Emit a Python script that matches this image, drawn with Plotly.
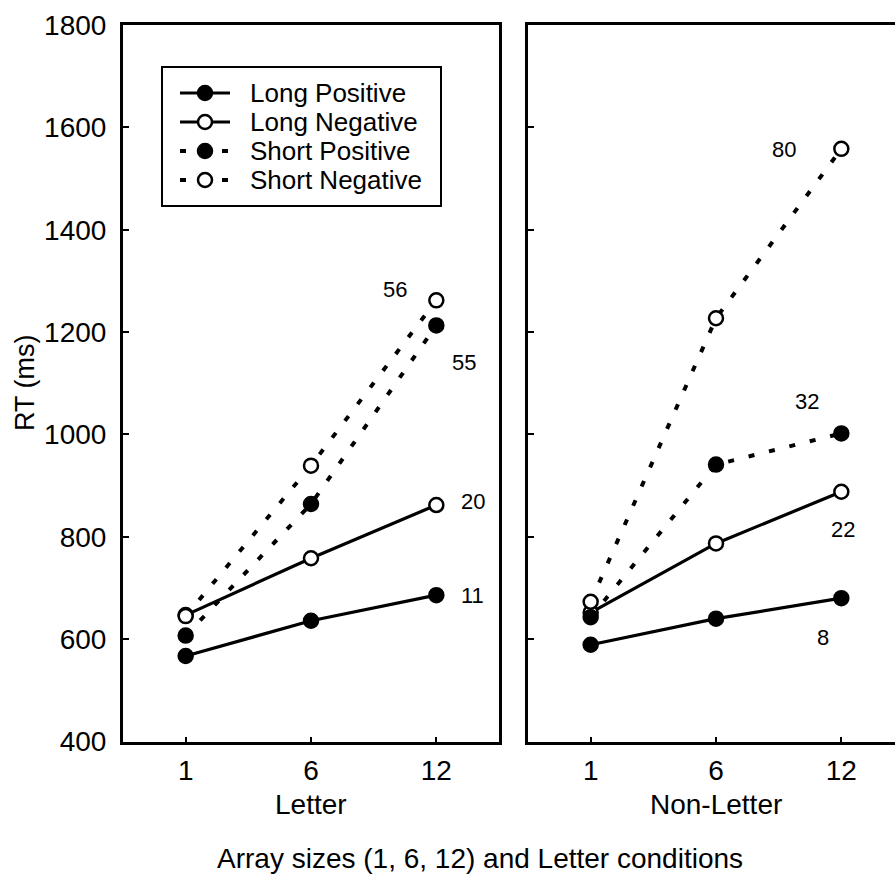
import plotly.graph_objects as go

# ---- data ----
array_sizes = ["1", "6", "12"]
series_names = ["Long Positive", "Long Negative", "Short Positive", "Short Negative"]

letter_long_pos = [567, 636, 686]
letter_long_neg = [647, 758, 862]
letter_short_pos = [607, 864, 1213]
letter_short_neg = [645, 939, 1262]

nonletter_long_pos = [589, 640, 680]
nonletter_long_neg = [652, 787, 888]
nonletter_short_pos = [643, 941, 1002]
nonletter_short_neg = [673, 1227, 1558]

letter_slopes = ["56", "55", "20", "11"]
nonletter_slopes = ["80", "32", "22", "8"]

y_ticks = [400, 600, 800, 1000, 1200, 1400, 1600, 1800]

FONT = "Liberation Sans, Arial, sans-serif"
W, H = 895, 884

styles = [
    dict(fill="black", dash="solid", width=3.2),
    dict(fill="white", dash="solid", width=3.2),
    dict(fill="black", dash="6px,15px", width=4),
    dict(fill="white", dash="6px,15px", width=4),
]

fig = go.Figure()

letter_data = [letter_long_pos, letter_long_neg, letter_short_pos, letter_short_neg]
nonletter_data = [nonletter_long_pos, nonletter_long_neg, nonletter_short_pos, nonletter_short_neg]


def add_series(xs, ys, st, xa, ya, name):
    fig.add_trace(go.Scatter(
        x=xs, y=ys, name=name, mode="lines+markers",
        line=dict(color="black", width=st["width"], dash=st["dash"]),
        marker=dict(size=14, color=st["fill"], line=dict(color="black", width=2.5)),
        xaxis=xa, yaxis=ya, showlegend=False, cliponaxis=False,
    ))


for i, (name, vals) in enumerate(zip(series_names, letter_data)):
    add_series(array_sizes, vals, styles[i], "x", "y", name)
for i, (name, vals) in enumerate(zip(series_names, nonletter_data)):
    add_series(array_sizes, vals, styles[i], "x2", "y2", name)

# ---- geometry ----
top_px, bot_px = 25, 741.5
ydom = [1 - bot_px / H, 1 - top_px / H]
left_dom = [123 / W, 499 / W]
right_dom = [528 / W, 1.0]
px_per_unit = (499 - 123) / 3.0
right_max = -0.5 + (W - 528) / px_per_unit

# legend box (drawn with its own helper axes, in pixel units)
LEG_L, LEG_R, LEG_T, LEG_B = 163, 440, 68, 205
row_y = [93, 122, 151, 180]
sym_x0, sym_x1, sym_xc, text_x = 180, 230, 205, 248

for i, name in enumerate(series_names):
    st = styles[i]
    fig.add_trace(go.Scatter(
        x=[sym_x0, sym_x1], y=[row_y[i], row_y[i]], mode="lines",
        line=dict(color="black", width=st["width"], dash=st["dash"]),
        xaxis="x3", yaxis="y3", showlegend=False, hoverinfo="skip",
    ))
    fig.add_trace(go.Scatter(
        x=[sym_xc], y=[row_y[i]], mode="markers", name=name,
        marker=dict(size=14, color=st["fill"], line=dict(color="black", width=2.5)),
        xaxis="x3", yaxis="y3", showlegend=False, hoverinfo="skip",
    ))

axis_common = dict(
    showline=True, linecolor="black", linewidth=3,
    ticks="inside", tickcolor="black", tickwidth=2,
    showgrid=False, zeroline=False,
    tickfont=dict(family=FONT, size=28, color="black"),
)

fig.update_layout(
    width=W, height=H,
    margin=dict(l=0, r=0, t=0, b=0, autoexpand=False),
    paper_bgcolor="white", plot_bgcolor="white",
    font=dict(family=FONT, color="black"),
    showlegend=False,
    xaxis=dict(axis_common, domain=left_dom, type="category",
               categoryorder="array", categoryarray=array_sizes,
               range=[-0.5, 2.5], mirror=True, ticklen=5,
               ticklabelstandoff=2, anchor="y"),
    yaxis=dict(axis_common, domain=ydom, range=[400, 1800],
               tickvals=y_ticks, ticklen=6, mirror=True,
               ticklabelstandoff=8, anchor="x"),
    xaxis2=dict(axis_common, domain=right_dom, type="category",
                categoryorder="array", categoryarray=array_sizes,
                range=[-0.5, right_max], mirror=True, ticklen=5,
                ticklabelstandoff=2, anchor="y2"),
    yaxis2=dict(axis_common, domain=ydom, range=[400, 1800],
                tickvals=y_ticks, ticklen=6, showticklabels=False,
                anchor="x2"),
    xaxis3=dict(domain=[LEG_L / W, LEG_R / W], range=[LEG_L, LEG_R],
                showline=True, mirror=True, linecolor="black", linewidth=2,
                showgrid=False, zeroline=False, showticklabels=False, ticks="",
                anchor="y3", fixedrange=True),
    yaxis3=dict(domain=[1 - LEG_B / H, 1 - LEG_T / H], range=[LEG_B, LEG_T],
                showline=True, mirror=True, linecolor="black", linewidth=2,
                showgrid=False, zeroline=False, showticklabels=False, ticks="",
                anchor="x3", fixedrange=True),
)

fig.add_shape(type="rect", xref="x3", yref="y3", x0=LEG_L, x1=LEG_R, y0=LEG_T, y1=LEG_B,
              fillcolor="white", line=dict(width=0), layer="below")

ann = []
ann.append(dict(text="RT (ms)", x=25 / W, y=1 - 383 / H, xref="paper", yref="paper",
                xanchor="center", yanchor="middle",
                textangle=-90, showarrow=False, font=dict(family=FONT, size=27)))
ann.append(dict(text="Letter", x=311 / W, y=1 - 804 / H, xref="paper", yref="paper",
                xanchor="center", yanchor="middle",
                showarrow=False, font=dict(family=FONT, size=28)))
ann.append(dict(text="Non-Letter", x=716 / W, y=1 - 804 / H, xref="paper", yref="paper",
                xanchor="center", yanchor="middle",
                showarrow=False, font=dict(family=FONT, size=28)))
ann.append(dict(text="Array sizes (1, 6, 12) and Letter conditions", x=480 / W, y=1 - 858 / H,
                xref="paper", yref="paper", xanchor="center", yanchor="middle",
                showarrow=False, font=dict(family=FONT, size=28)))

for i, name in enumerate(series_names):
    ann.append(dict(text=name, x=text_x, y=row_y[i], xref="x3", yref="y3",
                    xanchor="left", yanchor="middle", showarrow=False,
                    font=dict(family=FONT, size=26)))

letter_pos = [(1.67, 1283), (2.22, 1140), (2.29, 868), (2.29, 686)]
nonletter_pos = [(1.54, 1556), (1.73, 1064), (2.01, 815), (1.85, 604)]
for t, (xx, yy) in zip(letter_slopes, letter_pos):
    ann.append(dict(text=t, x=xx, y=yy, xref="x", yref="y", showarrow=False,
                    xanchor="center", yanchor="middle",
                    font=dict(family=FONT, size=22)))
for t, (xx, yy) in zip(nonletter_slopes, nonletter_pos):
    ann.append(dict(text=t, x=xx, y=yy, xref="x2", yref="y2", showarrow=False,
                    xanchor="center", yanchor="middle",
                    font=dict(family=FONT, size=22)))
fig.update_layout(annotations=ann)

fig.write_html("out.html")
